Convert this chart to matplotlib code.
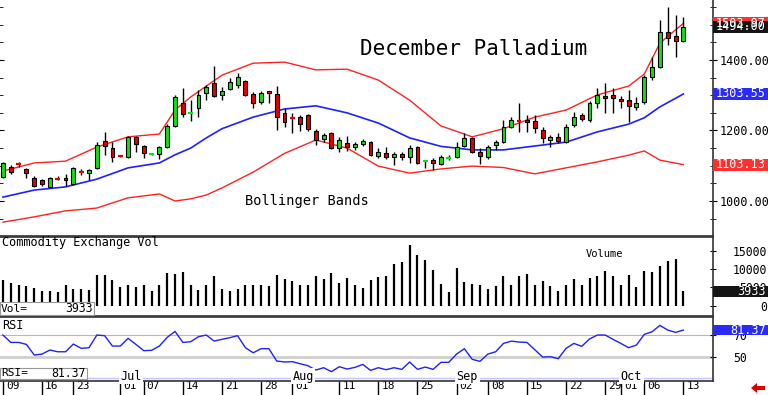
import matplotlib
matplotlib.use("Agg")
import matplotlib.pyplot as plt
import matplotlib.transforms as mtransforms
from matplotlib.patches import Rectangle, Polygon
from matplotlib.ticker import FixedLocator, FuncFormatter
import numpy as np

plt.rcParams['font.family'] = ['DejaVu Sans Mono', 'DejaVu Sans']

# December palladium, daily sessions Jun 9 .. Oct 13 (88 bars)
opens = [1068.1, 1096.4, 1104.9, 1090.7, 1065.2, 1059.5, 1039.7, 1063.8, 1065.2, 1048.2,
         1083.6, 1079.4, 1093.6, 1170.2, 1150.3, 1129.0, 1124.8, 1181.5, 1156.0, 1131.9,
         1133.3, 1153.2, 1212.7, 1278.0, 1248.2, 1263.8, 1306.4, 1334.7, 1300.7, 1317.7,
         1329.1, 1340.4, 1303.5, 1280.8, 1312.0, 1303.5, 1249.6, 1236.8, 1238.3, 1243.9,
         1198.6, 1175.9, 1192.9, 1150.3, 1164.5, 1153.2, 1161.7, 1167.4, 1127.6, 1136.1,
         1124.8, 1133.3, 1124.8, 1153.2, 1112.0, 1116.3, 1104.9, 1121.9, 1124.8, 1156.0,
         1178.7, 1139.0, 1124.8, 1158.8, 1167.4, 1209.9, 1228.3, 1229.8, 1226.9, 1201.4,
         1173.0, 1181.5, 1167.4, 1215.6, 1243.9, 1229.8, 1278.0, 1297.8, 1300.7, 1289.3,
         1286.5, 1266.6, 1280.8, 1351.8, 1380.1, 1479.4, 1468.1, 1453.9]
highs = [1110.6, 1102.1, 1110.6, 1093.6, 1070.9, 1062.4, 1068.1, 1070.9, 1076.6, 1096.4,
         1090.7, 1090.7, 1167.4, 1195.7, 1167.4, 1130.5, 1184.4, 1184.4, 1158.8, 1136.1,
         1156.0, 1218.4, 1300.7, 1320.6, 1286.5, 1314.9, 1329.1, 1383.0, 1323.4, 1348.9,
         1363.1, 1343.2, 1309.2, 1312.0, 1312.0, 1326.2, 1263.8, 1249.6, 1243.9, 1246.8,
         1204.2, 1192.9, 1195.7, 1181.5, 1184.4, 1167.4, 1175.9, 1170.2, 1150.3, 1153.2,
         1139.0, 1139.0, 1158.8, 1156.0, 1114.9, 1121.9, 1130.5, 1130.5, 1167.4, 1192.9,
         1181.5, 1150.3, 1158.8, 1173.0, 1229.8, 1238.3, 1278.0, 1243.9, 1243.9, 1209.9,
         1187.2, 1192.9, 1218.4, 1252.5, 1249.6, 1283.7, 1320.6, 1334.7, 1320.6, 1297.8,
         1314.9, 1295.0, 1357.4, 1408.5, 1513.5, 1550.3, 1527.6, 1522.0]
lows = [1065.2, 1076.6, 1096.4, 1065.2, 1039.7, 1042.5, 1036.8, 1059.5, 1042.5, 1045.4,
        1073.7, 1059.5, 1090.7, 1130.5, 1110.6, 1124.8, 1121.9, 1139.0, 1121.9, 1130.5,
        1119.1, 1150.3, 1209.9, 1238.3, 1226.9, 1238.3, 1286.5, 1295.0, 1286.5, 1314.9,
        1320.6, 1297.8, 1263.8, 1275.2, 1278.0, 1201.4, 1209.9, 1192.9, 1198.6, 1198.6,
        1158.8, 1167.4, 1147.5, 1139.0, 1141.8, 1144.7, 1156.0, 1127.6, 1121.9, 1119.1,
        1102.1, 1116.3, 1107.8, 1104.9, 1093.6, 1087.9, 1102.1, 1116.3, 1121.9, 1153.2,
        1136.1, 1104.9, 1119.1, 1144.7, 1164.5, 1207.1, 1195.7, 1195.7, 1192.9, 1164.5,
        1153.2, 1164.5, 1164.5, 1209.9, 1226.9, 1224.1, 1263.8, 1249.6, 1249.6, 1263.8,
        1224.1, 1258.1, 1275.2, 1343.2, 1377.3, 1442.5, 1408.5, 1451.0]
closes = [1107.8, 1082.2, 1103.5, 1079.4, 1042.5, 1048.2, 1065.2, 1061.0, 1059.5, 1093.6,
          1080.8, 1087.9, 1158.8, 1156.0, 1124.8, 1126.2, 1181.5, 1161.7, 1136.1, 1134.7,
          1153.2, 1212.7, 1295.0, 1246.8, 1251.0, 1300.7, 1323.4, 1297.8, 1312.0, 1337.6,
          1351.8, 1300.7, 1278.0, 1306.4, 1306.4, 1238.3, 1224.1, 1234.0, 1218.4, 1204.2,
          1173.0, 1187.2, 1150.3, 1173.0, 1153.2, 1161.7, 1170.2, 1130.5, 1139.0, 1124.8,
          1133.3, 1124.8, 1150.3, 1107.8, 1114.9, 1107.8, 1124.8, 1123.4, 1153.2, 1178.7,
          1139.0, 1127.6, 1153.2, 1167.4, 1209.9, 1229.8, 1225.5, 1224.1, 1207.1, 1178.7,
          1181.5, 1170.2, 1209.9, 1238.3, 1232.6, 1278.0, 1300.7, 1292.2, 1292.2, 1283.7,
          1269.5, 1278.0, 1351.8, 1380.1, 1479.4, 1462.4, 1453.9, 1494.0]
volume = [7100, 6190, 5740, 5280, 4830, 3920, 3920, 3730, 5560, 4650,
          4650, 4370, 8290, 8470, 7100, 5010, 5560, 5010, 5740, 4100,
          5740, 8930, 8650, 9200, 5740, 4370, 5740, 8010, 4550, 4100,
          4650, 5560, 5740, 5740, 5280, 8470, 7380, 6650, 5560, 5740,
          8200, 7380, 8930, 6190, 7560, 5740, 4830, 7100, 7830, 8010,
          11380, 11930, 16480, 13750, 12390, 9650, 5920, 3730, 10290, 6380,
          6010, 5740, 4550, 5280, 8200, 5740, 8010, 8740, 5740, 6830,
          5460, 4100, 5740, 7290, 5560, 7560, 8200, 9560, 8200, 5740,
          8470, 5100, 9560, 9110, 10750, 12290, 12750, 3933]
rsi = [70.0, 63.3, 63.3, 61.5, 51.8, 52.7, 56.4, 54.8, 54.8, 61.8,
       57.9, 58.5, 70.0, 69.4, 60.0, 60.0, 67.0, 61.5, 55.8, 56.1,
       60.0, 67.9, 73.3, 63.3, 63.9, 68.5, 70.0, 64.5, 66.1, 67.6,
       69.4, 58.5, 53.9, 57.6, 57.6, 46.4, 45.5, 45.8, 43.9, 42.1,
       38.2, 40.3, 36.7, 41.2, 39.1, 40.6, 43.3, 37.9, 40.3, 38.5,
       40.3, 38.8, 45.5, 38.8, 40.9, 38.8, 45.2, 45.2, 52.7, 57.6,
       47.9, 46.1, 52.7, 54.8, 62.4, 64.5, 63.6, 63.3, 56.7, 50.0,
       50.3, 48.5, 57.9, 62.4, 59.7, 66.4, 70.0, 70.0, 66.1, 62.4,
       58.5, 60.9, 70.6, 73.0, 78.8, 74.5, 72.4, 74.5]

# Bollinger bands read at these bars
band_idx = [0, 4, 8, 12, 16, 20, 22, 24, 26, 28, 32, 36, 40, 44, 48, 52, 56, 60,
            64, 68, 72, 76, 80, 82, 84, 87]
band_upper = [1085, 1108, 1113, 1153, 1182, 1190, 1258, 1295, 1326, 1357, 1391, 1394,
              1372, 1374, 1343, 1286, 1213, 1182, 1205, 1238, 1258, 1301, 1326, 1360,
              1448, 1503.97]
band_mid = [1011, 1031, 1040, 1062, 1094, 1108, 1131, 1150, 1179, 1205, 1238, 1261,
            1270, 1250, 1221, 1179, 1155, 1145, 1145, 1156, 1167, 1196, 1218, 1236,
            1267, 1303.55]
band_lower = [940, 955, 972, 980, 1009, 1020, 1000, 1006, 1017, 1037, 1082, 1135,
              1173, 1150, 1099, 1079, 1091, 1099, 1095, 1077, 1094, 1111, 1130, 1142,
              1116, 1103.13]

tick_idx = [0, 5, 9, 15, 18, 23, 28, 33, 37, 43, 48, 53, 58, 62, 67, 72, 77, 79, 82, 87]
tick_labels = ['09', '16', '23', '01', '07', '14', '21', '28', '01', '11', '18', '25',
               '02', '08', '15', '22', '29', '01', '06', '13']
month_idx = [15, 37, 58, 79]
month_labels = ['Jul', 'Aug', 'Sep', 'Oct']
rsi_last_label = '81.37'

W, H = 768, 395
fig = plt.figure(figsize=(W / 100, H / 100), dpi=100)


def fx(p):
    return p / W


def fy(p):
    return 1 - p / H


right = 712.7
ax = fig.add_axes([0, fy(236), fx(right), 236 / H])
axv = fig.add_axes([0, fy(316), fx(right), 79 / H])
axr = fig.add_axes([0, fy(380.7), fx(right), 63.7 / H])

x = np.arange(len(closes))
o, h, l, c = map(np.array, (opens, highs, lows, closes))
GREEN, RED, BLUE = '#12e012', '#e00000', '#2020ff'

for a in (ax, axv, axr):
    a.set_xlim(-0.38, 90.75)
    a.set_facecolor('white')
    for s in ('left',):
        a.spines[s].set_visible(False)
    for s in ('right', 'bottom', 'top'):
        a.spines[s].set_color('#333333')
        a.spines[s].set_linewidth(1.2)
ax.spines['top'].set_visible(False)

# --- price panel ---
ax.set_ylim(900.7, 1570.2)
ax.plot(band_idx, band_upper, color='#ff2222', lw=1, zorder=1)
ax.plot(band_idx, band_lower, color='#ff2222', lw=1, zorder=1)
ax.plot(band_idx, band_mid, color=BLUE, lw=1.2, zorder=1)

up = c >= o
cols = np.where(up, GREEN, RED)
body = np.abs(c - o)
small = body < 3.5
big = ~small
ax.vlines(x, l, h, color='black', lw=1, zorder=2)
ax.bar(x[big], body[big], bottom=np.minimum(o, c)[big], width=0.5,
       color=cols[big], edgecolor='black', linewidth=0.8, zorder=3)
ax.hlines((o + c)[small] / 2, x[small] - 0.3, x[small] + 0.3,
          colors=cols[small], lw=1.6, zorder=3)

ax.set_xticks([])
ax.yaxis.set_major_locator(FixedLocator([1000, 1200, 1400]))
ax.yaxis.set_minor_locator(FixedLocator(np.arange(950, 1600, 50)))
ax.yaxis.set_major_formatter(FuncFormatter(lambda v, p: f'{v:.2f}'))
ax.tick_params(axis='y', which='both', left=True, right=True, labelleft=False,
               labelright=True, direction='inout', labelsize=8.5, pad=2)
ax.tick_params(axis='y', which='major', length=6)
ax.tick_params(axis='y', which='minor', length=4)

ax.text(360, 0, '', transform=ax.transData)
fig.text(fx(360), fy(49), 'December Palladium', fontsize=15, va='center', ha='left')
fig.text(fx(245), fy(201), 'Bollinger Bands', fontsize=9.8, va='center', ha='left')

# --- volume panel ---
axv.set_ylim(-2814, 18770)
axv.vlines(x, 0, volume, color='black', lw=1.6)
axv.set_xticks([])
axv.yaxis.set_major_locator(FixedLocator([0, 5000, 10000, 15000]))
axv.tick_params(axis='y', left=False, right=True, labelleft=False, labelright=True,
                direction='inout', length=4, labelsize=8.3, pad=37)
for t in axv.get_yticklabels():
    t.set_horizontalalignment('right')
fig.text(fx(2), fy(243), 'Commodity Exchange Vol', fontsize=8.6, va='center', ha='left')
fig.text(fx(586), fy(254), 'Volume', fontsize=7.5, va='center', ha='left')

# --- RSI panel ---
axr.set_ylim(28.5, 86.4)
axr.axhline(70, color='#ff9a9a', lw=0.8, zorder=1)
axr.axhline(50, color='#cfcfcf', lw=2, zorder=1)
month_y = 31.2
axr.axhline(month_y, color='#c4c4ff', lw=1, zorder=1)
axr.plot(x, rsi, color=BLUE, lw=1, zorder=3)
for i, m in zip(month_idx, month_labels):
    axr.text(i, month_y + 1.5, m, fontsize=8.5, ha='left', va='center', zorder=4,
             bbox=dict(boxstyle='square,pad=0.15', fc='white', ec='none'), clip_on=False)
axr.yaxis.set_major_locator(FixedLocator([50, 70]))
axr.tick_params(axis='y', left=False, right=True, labelleft=False, labelright=True,
                direction='inout', length=4, labelsize=8.3, pad=13)
fig.text(fx(2), fy(325.5), 'RSI', fontsize=8.6, va='center', ha='left')

axr.set_xticks(tick_idx)
axr.set_xticklabels(tick_labels)
axr.tick_params(axis='x', direction='out', length=10, width=1, color='black',
                labelsize=8, pad=-10)
shift = mtransforms.ScaledTranslation(3 / 100, 0, fig.dpi_scale_trans)
for t in axr.get_xticklabels():
    t.set_horizontalalignment('left')
    t.set_transform(t.get_transform() + shift)

# --- current value boxes at the right edge ---
box_w = (W - right) / right


def value_box(a, val, text, color, half):
    tr = mtransforms.blended_transform_factory(a.transAxes, a.transData)
    a.add_patch(Rectangle((1.0, val - half), box_w, 2 * half, transform=tr,
                          fc=color, ec='none', clip_on=False, zorder=5))
    a.text((766 - 0) / right, val, text, transform=tr, color='white', fontsize=8.5,
           ha='right', va='center', clip_on=False, zorder=6)


value_box(ax, band_upper[-1], f'{band_upper[-1]:.2f}', '#ff3030', 17)
value_box(ax, closes[-1], f'{closes[-1]:.2f}', '#151515', 17)
value_box(ax, band_mid[-1], f'{band_mid[-1]:.2f}', '#2a2aff', 17)
value_box(ax, band_lower[-1], f'{band_lower[-1]:.2f}', '#ff3030', 17)
value_box(axv, volume[-1], f'{volume[-1]}', '#151515', 1500)
value_box(axr, rsi[-1], rsi_last_label, '#2a2aff', 4.6)

# --- readout boxes bottom-left ---
fig.add_artist(Rectangle((fx(0), fy(315)), fx(94), 13 / H, transform=fig.transFigure,
                         fc='white', ec='#999999', lw=0.8))
fig.text(fx(1), fy(308.5), 'Vol=', fontsize=8, va='center', ha='left')
fig.text(fx(93), fy(308.5), f'{volume[-1]}', fontsize=8.3, va='center', ha='right')
fig.add_artist(Rectangle((fx(0), fy(379)), fx(87), 11 / H, transform=fig.transFigure,
                         fc='white', ec='#999999', lw=0.8))
fig.text(fx(1), fy(373.5), 'RSI=', fontsize=8, va='center', ha='left')
fig.text(fx(86), fy(373.5), rsi_last_label, fontsize=8.3, va='center', ha='right')

# red arrow bottom right
pts = [(751, 388), (757, 383), (757, 386), (765, 386), (765, 390), (757, 390), (757, 393)]
fig.add_artist(Polygon([(fx(px), fy(py)) for px, py in pts], closed=True,
                       transform=fig.transFigure, fc='#e00000', ec='none'))

fig.savefig('out.png', dpi=100)
